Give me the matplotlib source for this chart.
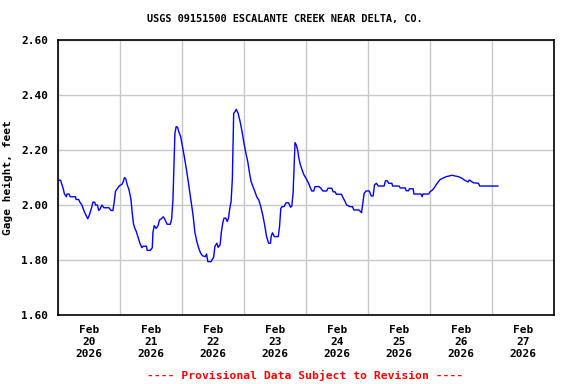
import pandas as pd
import matplotlib
matplotlib.use('Agg')
import matplotlib.pyplot as plt
import matplotlib.dates as mdates

# hours after 2026-02-20 00:00 and gage height (feet)
hours = [0.25, 1.0, 1.5, 2.0, 2.5, 3.25, 3.5, 4.25, 4.75, 6.75, 7.0, 8.0, 8.5, 9.25,
         10.0, 11.0, 11.5, 12.0, 13.0, 13.5, 14.25, 14.5, 15.25, 15.75, 16.25, 17.0,
         17.75, 19.75, 20.5, 21.25, 21.75, 22.25, 23.0, 23.75, 24.75, 25.25, 25.75,
         26.25, 26.75, 27.5, 28.25, 28.75, 29.25, 29.75, 30.25, 30.75, 31.25, 31.75,
         32.5, 33.0, 34.25, 34.5, 35.75, 36.5, 36.75, 37.25, 38.0, 38.75, 39.25, 40.0,
         40.75, 41.25, 41.75, 42.25, 43.5, 44.0, 44.5, 45.25, 45.75, 46.25, 46.75,
         47.5, 48.25, 49.0, 49.75, 50.5, 51.25, 52.25, 53.0, 53.75, 54.5, 55.25, 56.0,
         57.0, 57.5, 58.0, 59.25, 59.75, 60.25, 60.75, 61.5, 62.0, 62.75, 63.25, 63.75,
         64.25, 65.0, 65.5, 66.0, 66.5, 67.0, 67.5, 68.0, 68.5, 69.0, 69.75, 70.5,
         71.25, 72.0, 72.75, 73.5, 74.25, 74.75, 75.5, 76.25, 77.0, 77.75, 78.5, 79.25,
         80.0, 80.75, 81.5, 82.25, 82.5, 83.0, 83.75, 85.25, 85.75, 86.25, 86.75, 87.5,
         88.25, 89.25, 90.0, 90.5, 91.0, 91.25, 91.75, 92.25, 92.75, 93.25, 93.75,
         94.5, 95.25, 96.0, 97.0, 97.75, 98.25, 99.0, 99.5, 101.0, 101.75, 102.5,
         104.0, 104.5, 106.0, 106.5, 107.25, 107.75, 109.75, 110.25, 111.0, 111.75,
         113.0, 114.0, 114.5, 116.5, 117.5, 118.0, 118.5, 119.25, 120.5, 121.25, 122.0,
         122.5, 123.25, 124.0, 126.25, 126.75, 127.5, 128.0, 129.25, 129.5, 132.0,
         132.5, 134.5, 134.75, 135.75, 136.0, 137.5, 137.75, 140.5, 141.0, 141.25,
         143.5, 144.0, 145.0, 145.75, 146.5, 147.25, 148.0, 150.25, 152.5, 155.0,
         156.25, 157.25, 158.75, 159.25, 160.75, 162.75, 163.25, 165.25, 170.25]
gage = [2.09, 2.09, 2.075, 2.06, 2.04, 2.03, 2.04, 2.04, 2.03, 2.03, 2.02, 2.02, 2.01, 2.00,
        1.98, 1.96, 1.95, 1.96, 1.99, 2.01, 2.01, 2.00, 2.00, 1.98, 1.985, 2.00,
        1.99, 1.99, 1.98, 1.98, 2.01, 2.05, 2.06, 2.07, 2.075, 2.085, 2.10,
        2.095, 2.075, 2.055, 2.02, 1.97, 1.93, 1.915, 1.905, 1.89, 1.875, 1.86,
        1.845, 1.85, 1.85, 1.835, 1.835, 1.845, 1.90, 1.925, 1.915, 1.925, 1.945, 1.95,
        1.957, 1.95, 1.94, 1.93, 1.93, 1.95, 2.02, 2.26, 2.285, 2.283, 2.267,
        2.248, 2.21, 2.17, 2.127, 2.08, 2.03, 1.965, 1.90, 1.867, 1.842, 1.824, 1.815,
        1.812, 1.822, 1.794, 1.794, 1.803, 1.81, 1.85, 1.861, 1.846, 1.855, 1.903, 1.933,
        1.952, 1.952, 1.94, 1.952, 1.988, 2.012, 2.097, 2.333, 2.339, 2.348, 2.333, 2.303,
        2.267, 2.224, 2.188, 2.155, 2.11, 2.085, 2.067, 2.048, 2.028, 2.018, 1.994, 1.964,
        1.927, 1.885, 1.861, 1.861, 1.885, 1.899, 1.885, 1.885, 1.921, 1.988, 1.994, 1.994,
        2.008, 2.008, 1.992, 1.996, 2.042, 2.103, 2.227, 2.218, 2.20, 2.17, 2.149,
        2.127, 2.109, 2.097, 2.079, 2.061, 2.051, 2.051, 2.067, 2.067, 2.061, 2.051,
        2.051, 2.061, 2.061, 2.048, 2.048, 2.039, 2.039, 2.028, 2.015, 2.00,
        1.994, 1.994, 1.982, 1.982, 1.972, 2.006, 2.042, 2.051, 2.051, 2.033, 2.033,
        2.073, 2.079, 2.069, 2.069, 2.088, 2.088, 2.079, 2.079, 2.069, 2.069,
        2.062, 2.062, 2.052, 2.052, 2.059, 2.059, 2.04, 2.04, 2.03, 2.04,
        2.04, 2.048, 2.055, 2.064, 2.075, 2.085, 2.093, 2.103, 2.108, 2.103,
        2.098, 2.091, 2.084, 2.091, 2.081, 2.079, 2.069, 2.069, 2.069]

yticks = [1.60, 1.80, 2.00, 2.20, 2.40, 2.60]
start = pd.Timestamp('2026-02-20')
end = pd.Timestamp('2026-02-28')

times = start + pd.to_timedelta(hours, unit='h')

fnt = {'family': 'DejaVu Sans Mono', 'weight': 'bold'}

fig = plt.figure(figsize=(5.76, 3.84), dpi=100)
ax = fig.add_axes([58 / 576, 1 - 315 / 384, 496 / 576, 275 / 384])

ax.plot(times, gage, color='#0000ff', linewidth=1.0)

ax.set_xlim(start, end)
ax.set_ylim(1.60, 2.60)
ax.set_yticks(yticks)
ax.set_yticklabels([f'{v:.2f}' for v in yticks], **fnt, fontsize=8)

ax.xaxis.set_major_locator(mdates.HourLocator(byhour=[12]))
ax.xaxis.set_major_formatter(mdates.DateFormatter('%b\n%d\n%Y'))
ax.xaxis.set_minor_locator(mdates.DayLocator())
for lbl in ax.get_xticklabels():
    lbl.set_fontfamily('DejaVu Sans Mono')
    lbl.set_fontweight('bold')
    lbl.set_fontsize(8)
    lbl.set_linespacing(1.25)

ax.tick_params(axis='both', which='both', length=0)
ax.tick_params(axis='x', pad=7)
ax.tick_params(axis='y', pad=7)
ax.grid(True, which='minor', axis='x', color='#c8c8c8', linewidth=1.0)
ax.grid(True, which='major', axis='y', color='#c8c8c8', linewidth=1.0)
ax.grid(False, which='major', axis='x')
ax.set_axisbelow(True)
for s in ax.spines.values():
    s.set_linewidth(1.2)
    s.set_color('black')

ax.set_ylabel('Gage height, feet', **fnt, fontsize=8, labelpad=6)

fig.text(0.495, 1 - 19 / 384, 'USGS 09151500 ESCALANTE CREEK NEAR DELTA, CO.',
         ha='center', va='center', fontsize=7.4, **fnt)
fig.text(305 / 576, 1 - 375 / 384, '---- Provisional Data Subject to Revision ----',
         ha='center', va='center', fontsize=8.2, color='#ff0000', **fnt)

fig.savefig('out.png', dpi=100)
